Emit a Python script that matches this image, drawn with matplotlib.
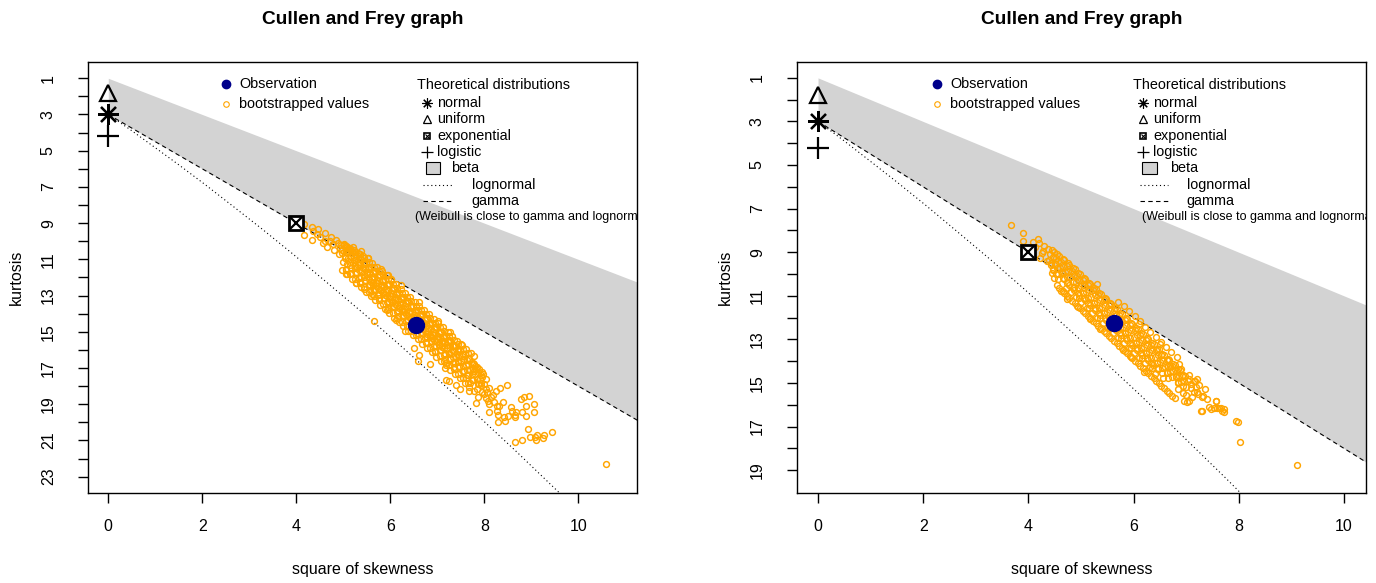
import numpy as np
import matplotlib
matplotlib.use("Agg")
from matplotlib import pyplot as plt
from matplotlib.patches import Rectangle

plt.rcParams['font.family'] = ['Liberation Sans', 'DejaVu Sans']

# ---- values ----
obs_left = (6.55, 14.64)
obs_right = (5.62, 12.27)

# theoretical reference points (square of skewness, kurtosis)
norm_pt = (0.0, 3.0)
unif_pt = (0.0, 1.8)
expo_pt = (4.0, 9.0)
logis_pt = (0.0, 4.2)

# beta region: upper limit and gamma line, read at two ends
beta_s2 = [0.0, 12.0]
beta_top = [1.0, 13.0]
gamma_kurt = [3.0, 21.0]

# lognormal line
lnorm_s2 = [0.0, 0.47, 0.96, 1.49, 2.05, 2.64, 3.27, 3.93, 4.62, 5.36, 6.13, 6.93, 7.78, 8.66, 9.58, 10.55]
lnorm_kurt = [3.0, 3.84, 4.76, 5.76, 6.85, 8.04, 9.32, 10.71, 12.21, 13.83, 15.56, 17.43, 19.43, 21.56, 23.85, 26.29]

boot_left = [
    # start of the cloud near the exponential point
    (4.17, 9.02), (4.33, 9.24), (4.17, 9.66), (4.36, 9.46), (4.43, 9.62), (4.34, 9.91), (4.51, 9.76),
    (4.62, 9.52), (4.56, 10.08), (4.71, 10.01), (4.65, 10.31), (4.78, 10.16), (4.81, 10.47), (4.73, 9.78),
    (4.60, 9.98), (4.47, 9.35), (4.84, 9.92),
    # dense core
    (4.88, 10.08), (4.93, 10.37), (4.90, 10.71), (4.96, 10.22),
    (5.02, 10.17), (4.98, 10.47), (5.04, 10.79), (5.00, 11.12), (4.97, 10.63),
    (5.08, 10.32), (5.13, 10.58), (5.10, 10.94), (5.14, 11.31), (5.06, 11.52),
    (5.18, 10.56), (5.23, 10.86), (5.20, 11.18), (5.25, 11.49), (5.16, 11.78), (5.22, 11.03),
    (5.28, 10.79), (5.33, 11.12), (5.30, 11.44), (5.26, 11.73), (5.34, 12.02), (5.31, 11.29),
    (5.38, 10.97), (5.43, 11.28), (5.40, 11.63), (5.44, 11.96), (5.36, 12.23), (5.41, 11.48),
    (5.48, 11.21), (5.53, 11.52), (5.50, 11.83), (5.46, 12.16), (5.54, 12.43), (5.51, 11.69),
    (5.58, 11.42), (5.63, 11.74), (5.60, 12.09), (5.64, 12.41), (5.56, 12.68), (5.61, 11.96), (5.59, 12.26),
    (5.68, 11.63), (5.73, 11.97), (5.70, 12.31), (5.66, 12.63), (5.74, 12.94), (5.71, 12.14), (5.69, 12.48),
    (5.78, 11.88), (5.83, 12.22), (5.80, 12.54), (5.84, 12.86), (5.76, 13.16), (5.81, 12.39), (5.79, 12.71),
    (5.88, 12.12), (5.93, 12.44), (5.90, 12.78), (5.86, 13.12), (5.94, 13.38), (5.91, 12.62), (5.89, 12.96),
    (5.98, 12.36), (6.03, 12.68), (6.00, 13.04), (6.04, 13.36), (5.96, 13.63), (6.01, 12.86), (5.99, 13.21),
    (6.08, 12.59), (6.13, 12.92), (6.10, 13.26), (6.06, 13.58), (6.14, 13.91), (6.11, 13.09), (6.09, 13.44),
    (6.18, 12.83), (6.23, 13.17), (6.20, 13.49), (6.24, 13.84), (6.16, 14.13), (6.21, 13.33), (6.19, 13.68),
    (6.28, 13.07), (6.33, 13.39), (6.30, 13.74), (6.26, 14.07), (6.34, 14.38), (6.31, 13.58), (6.29, 13.91),
    (6.38, 13.31), (6.43, 13.64), (6.40, 13.98), (6.44, 14.31), (6.36, 14.63), (6.41, 13.83), (6.39, 14.16),
    (6.48, 13.56), (6.53, 13.88), (6.50, 14.24), (6.46, 14.56), (6.54, 14.86), (6.51, 14.06), (6.49, 14.41),
    (6.58, 13.79), (6.63, 14.12), (6.60, 14.46), (6.64, 14.78), (6.56, 15.09), (6.61, 14.29), (6.59, 14.63),
    (6.68, 14.02), (6.73, 14.36), (6.70, 14.69), (6.66, 15.02), (6.74, 15.33), (6.71, 14.53), (6.69, 14.86),
    (6.78, 14.26), (6.83, 14.59), (6.80, 14.93), (6.84, 15.26), (6.76, 15.58), (6.81, 14.78), (6.79, 15.11),
    (6.88, 14.49), (6.93, 14.84), (6.90, 15.18), (6.86, 15.49), (6.94, 15.81), (6.91, 15.01), (6.89, 15.34),
    (6.98, 14.76), (7.03, 15.07), (7.00, 15.41), (7.04, 15.74), (6.96, 16.04), (7.01, 15.24), (6.99, 15.58),
    (7.08, 14.99), (7.13, 15.31), (7.10, 15.64), (7.06, 15.98), (7.14, 16.29), (7.11, 15.49), (7.09, 15.83),
    (7.18, 15.24), (7.23, 15.56), (7.20, 15.89), (7.24, 16.21), (7.16, 16.49), (7.21, 15.73),
    (7.28, 15.49), (7.33, 15.79), (7.30, 16.13), (7.26, 16.46), (7.34, 16.74), (7.31, 15.98),
    (7.38, 15.76), (7.43, 16.04), (7.40, 16.39), (7.44, 16.69), (7.36, 16.96), (7.41, 16.21),
    (7.48, 16.01), (7.53, 16.31), (7.50, 16.61), (7.46, 16.91), (7.54, 17.19),
    (7.58, 16.24), (7.63, 16.56), (7.60, 16.84), (7.56, 17.14), (7.64, 17.41),
    (7.68, 16.51), (7.73, 16.79), (7.70, 17.11), (7.66, 17.39), (7.74, 17.64),
    (7.78, 16.79), (7.83, 17.06), (7.80, 17.34), (7.76, 17.66),
    (7.88, 17.04), (7.93, 17.36), (7.90, 17.61), (7.86, 17.89),
    (7.98, 17.31), (8.03, 17.58), (8.00, 17.86), (8.04, 18.14),
    # dense core, in-between points
    (5.05, 10.25), (5.06, 10.58), (5.04, 10.93), (5.07, 11.27),
    (5.15, 10.46), (5.16, 10.79), (5.14, 11.14), (5.17, 11.48),
    (5.25, 10.71), (5.26, 11.02), (5.24, 11.37), (5.27, 11.70),
    (5.35, 10.93), (5.36, 11.27), (5.34, 11.61), (5.37, 11.96),
    (5.45, 11.17), (5.46, 11.50), (5.44, 11.85), (5.47, 12.20),
    (5.55, 11.40), (5.56, 11.74), (5.54, 12.09), (5.57, 12.43),
    (5.65, 11.64), (5.66, 11.98), (5.64, 12.33), (5.67, 12.68),
    (5.75, 11.88), (5.76, 12.21), (5.74, 12.56), (5.77, 12.90),
    (5.85, 12.12), (5.86, 12.45), (5.84, 12.80), (5.87, 13.14),
    (5.95, 12.36), (5.96, 12.69), (5.94, 13.04), (5.97, 13.38),
    (6.05, 12.60), (6.06, 12.93), (6.04, 13.28), (6.07, 13.62),
    (6.15, 12.84), (6.16, 13.17), (6.14, 13.52), (6.17, 13.86),
    (6.25, 13.08), (6.26, 13.41), (6.24, 13.76), (6.27, 14.10),
    (6.35, 13.32), (6.36, 13.65), (6.34, 14.00), (6.37, 14.34),
    (6.45, 13.56), (6.46, 13.89), (6.44, 14.24), (6.47, 14.58),
    (6.55, 13.80), (6.56, 14.13), (6.54, 14.48), (6.57, 14.82),
    (6.65, 14.04), (6.66, 14.37), (6.64, 14.72), (6.67, 15.06),
    (6.75, 14.27), (6.76, 14.60), (6.74, 14.95), (6.77, 15.29),
    (6.85, 14.51), (6.86, 14.84), (6.84, 15.19), (6.87, 15.53),
    (6.95, 14.75), (6.96, 15.08), (6.94, 15.43), (6.97, 15.77),
    (7.05, 14.99), (7.06, 15.32), (7.04, 15.67), (7.07, 16.01),
    (7.15, 15.23), (7.16, 15.56), (7.14, 15.91), (7.17, 16.25),
    (7.25, 15.47), (7.26, 15.80), (7.24, 16.15), (7.27, 16.49),
    (7.35, 15.72), (7.36, 16.04), (7.34, 16.39), (7.37, 16.72),
    (7.45, 15.96), (7.46, 16.28), (7.44, 16.63), (7.47, 16.95),
    (7.55, 16.21), (7.56, 16.52), (7.54, 16.87),
    (7.65, 16.45), (7.66, 16.76), (7.64, 17.11),
    (7.75, 16.70), (7.76, 17.00), (7.74, 17.34),
    (7.85, 16.95), (7.86, 17.24), (7.84, 17.58),
    (7.95, 17.20), (7.96, 17.48), (7.94, 17.80),
    # edges of the core, gamma side and lognormal side
    (5.02, 10.20), (4.98, 11.59), (5.12, 10.35), (5.08, 11.83), (5.22, 10.50), (5.18, 12.07),
    (5.32, 10.65), (5.28, 12.31), (5.42, 10.80), (5.38, 12.55), (5.52, 10.95), (5.48, 12.79),
    (5.62, 11.18), (5.58, 13.03), (5.72, 11.41), (5.68, 13.26), (5.82, 11.65), (5.78, 13.50),
    (5.92, 11.89), (5.88, 13.74), (6.02, 12.13), (5.98, 13.98), (6.12, 12.37), (6.08, 14.22),
    (6.22, 12.61), (6.18, 14.46), (6.32, 12.85), (6.28, 14.70), (6.42, 13.09), (6.38, 14.94),
    (6.52, 13.33), (6.48, 15.18), (6.62, 13.57), (6.58, 15.42), (6.72, 13.80), (6.68, 15.65),
    (6.82, 14.04), (6.78, 15.89), (6.92, 14.28), (6.88, 16.13), (7.02, 14.52), (6.98, 16.37),
    (7.12, 14.76), (7.08, 16.61), (7.22, 15.00), (7.18, 16.85), (7.32, 15.24), (7.28, 17.09),
    (7.42, 15.48), (7.38, 17.33), (7.52, 15.72), (7.48, 17.57), (7.62, 15.96), (7.58, 17.81),
    (7.72, 16.19), (7.68, 18.04),
    (5.05, 10.28), (5.05, 11.58), (5.15, 10.43), (5.15, 11.82), (5.25, 10.58), (5.25, 12.06),
    (5.35, 10.73), (5.35, 12.30), (5.45, 10.92), (5.45, 12.54), (5.55, 11.16), (5.55, 12.78),
    (5.65, 11.40), (5.65, 13.02), (5.75, 11.63), (5.75, 13.25), (5.85, 11.87), (5.85, 13.49),
    (5.95, 12.11), (5.95, 13.73), (6.05, 12.35), (6.05, 13.97), (6.15, 12.59), (6.15, 14.21),
    (6.25, 12.83), (6.25, 14.45), (6.35, 13.07), (6.35, 14.69), (6.45, 13.31), (6.45, 14.93),
    (6.55, 13.55), (6.55, 15.17), (6.65, 13.79), (6.65, 15.41), (6.75, 14.02), (6.75, 15.64),
    (6.85, 14.26), (6.85, 15.88), (6.95, 14.50), (6.95, 16.12), (7.05, 14.74), (7.05, 16.36),
    (7.15, 14.98), (7.15, 16.60), (7.25, 15.22), (7.25, 16.84), (7.35, 15.46), (7.35, 17.08),
    (7.45, 15.70), (7.45, 17.32), (7.55, 15.94), (7.55, 17.56), (7.65, 16.18), (7.65, 17.80),
    # loose points around the core
    (5.05, 11.83), (5.28, 12.31), (5.61, 12.89), (5.45, 12.62), (5.66, 14.41), (5.92, 13.78), (6.12, 14.33),
    (6.31, 14.98), (6.50, 15.89), (6.59, 16.60), (6.61, 16.26), (6.84, 16.77), (7.19, 16.70), (7.16, 16.98),
    (5.52, 10.92), (5.81, 11.52), (6.22, 12.43), (6.62, 13.38), (7.02, 14.41), (7.26, 15.02), (7.50, 15.70),
    (7.48, 15.98), (7.79, 16.31), (7.80, 16.90), (7.79, 17.17), (5.21, 10.31), (5.37, 10.52), (6.02, 12.08),
    (5.15, 10.35), (5.95, 11.85),
    # tail
    (7.86, 18.60), (7.83, 18.94), (8.04, 18.67), (8.11, 19.41), (8.11, 19.00), (8.19, 18.49), (8.25, 18.26),
    (8.33, 18.10), (8.30, 19.61), (8.30, 19.98), (8.31, 19.08), (8.39, 18.90), (8.43, 19.93), (8.48, 17.94),
    (8.51, 19.63), (8.57, 19.13), (8.58, 19.35), (8.65, 19.57), (8.65, 21.06), (8.77, 18.70), (8.84, 18.60),
    (8.89, 19.10), (8.89, 19.63), (8.93, 20.37), (8.98, 20.80), (9.07, 20.80), (9.09, 21.00), (9.28, 20.68),
    (9.43, 20.54), (9.24, 20.85), (9.13, 20.68), (9.05, 19.45), (9.05, 18.96), (8.96, 18.55), (8.80, 19.45),
    (8.68, 19.41), (8.28, 19.37), (8.26, 19.10), (8.42, 19.72), (8.66, 19.72), (7.85, 18.18), (7.88, 17.90),
    (7.79, 18.26), (7.67, 18.26), (7.49, 18.18), (7.39, 17.95), (7.24, 17.69), (7.18, 17.65), (8.05, 18.35),
    (8.15, 18.62), (8.00, 18.45), (8.20, 18.85), (7.95, 18.30), (8.10, 18.10), (7.70, 17.80), (7.60, 17.55),
    (7.92, 17.95), (8.08, 18.80), (8.80, 20.95), (10.58, 22.28),
]

boot_right = [
    # start of the cloud near the exponential point
    (3.67, 7.76), (3.90, 8.10), (3.89, 8.48), (4.08, 8.52), (4.18, 8.38), (4.13, 8.75), (4.25, 9.02),
    (4.30, 8.70), (4.22, 9.25), (4.35, 9.40), (4.28, 8.95), (4.45, 9.95), (4.55, 10.50), (4.48, 10.20),
    (4.65, 10.78), (4.74, 11.16), (4.95, 11.50), (4.20, 8.60),
    # dense core
    (4.38, 8.85), (4.42, 9.10), (4.40, 9.38), (4.44, 9.60),
    (4.48, 8.98), (4.53, 9.27), (4.50, 9.52), (4.46, 9.78), (4.52, 10.02),
    (4.58, 9.16), (4.63, 9.45), (4.60, 9.71), (4.64, 9.97), (4.56, 10.22),
    (4.68, 9.36), (4.73, 9.62), (4.70, 9.90), (4.66, 10.17), (4.74, 10.43), (4.71, 10.62),
    (4.78, 9.58), (4.83, 9.84), (4.80, 10.12), (4.76, 10.39), (4.84, 10.65), (4.81, 10.84),
    (4.88, 9.79), (4.93, 10.07), (4.90, 10.35), (4.86, 10.61), (4.94, 10.88), (4.91, 11.06),
    (4.98, 10.01), (5.03, 10.28), (5.00, 10.57), (5.04, 10.85), (4.96, 11.11), (5.01, 11.30),
    (5.08, 10.23), (5.13, 10.51), (5.10, 10.81), (5.06, 11.08), (5.14, 11.34), (5.11, 11.54),
    (5.18, 10.45), (5.23, 10.74), (5.20, 11.04), (5.24, 11.31), (5.16, 11.57), (5.21, 11.77),
    (5.28, 10.68), (5.33, 10.97), (5.30, 11.27), (5.26, 11.54), (5.34, 11.80), (5.31, 12.01),
    (5.38, 10.91), (5.43, 11.19), (5.40, 11.50), (5.44, 11.77), (5.36, 12.03), (5.41, 12.24),
    (5.48, 11.14), (5.53, 11.42), (5.50, 11.73), (5.46, 12.00), (5.54, 12.26), (5.51, 12.47),
    (5.58, 11.37), (5.63, 11.65), (5.60, 11.96), (5.64, 12.23), (5.56, 12.49), (5.61, 12.70),
    (5.68, 11.60), (5.73, 11.88), (5.70, 12.19), (5.66, 12.46), (5.74, 12.72), (5.71, 12.93),
    (5.78, 11.83), (5.83, 12.11), (5.80, 12.42), (5.84, 12.69), (5.76, 12.95), (5.81, 13.16),
    (5.88, 12.06), (5.93, 12.34), (5.90, 12.65), (5.86, 12.92), (5.94, 13.18), (5.91, 13.39),
    (5.98, 12.29), (6.03, 12.57), (6.00, 12.88), (6.04, 13.15), (5.96, 13.41), (6.01, 13.62),
    (6.08, 12.52), (6.13, 12.80), (6.10, 13.11), (6.06, 13.38), (6.14, 13.64), (6.11, 13.85),
    (6.18, 12.75), (6.23, 13.03), (6.20, 13.34), (6.24, 13.61), (6.16, 13.87), (6.21, 14.08),
    (6.28, 12.98), (6.33, 13.26), (6.30, 13.57), (6.26, 13.84), (6.34, 14.10), (6.31, 14.29),
    (6.38, 13.22), (6.43, 13.50), (6.40, 13.80), (6.44, 14.07), (6.36, 14.32),
    (6.48, 13.46), (6.53, 13.74), (6.50, 14.03), (6.46, 14.30), (6.54, 14.55),
    (6.58, 13.70), (6.63, 13.97), (6.60, 14.26), (6.64, 14.53), (6.56, 14.76),
    (6.68, 13.94), (6.73, 14.21), (6.70, 14.49), (6.66, 14.76),
    (6.78, 14.18), (6.83, 14.45), (6.80, 14.72), (6.84, 14.98),
    (6.88, 14.42), (6.93, 14.69), (6.90, 14.95),
    (6.98, 14.68), (7.03, 14.93), (7.00, 15.19),
    # dense core, in-between points
    (4.45, 8.90), (4.46, 9.20), (4.44, 9.50), (4.47, 9.80),
    (4.55, 9.10), (4.56, 9.40), (4.54, 9.72), (4.57, 10.02),
    (4.65, 9.30), (4.66, 9.62), (4.64, 9.93), (4.67, 10.25),
    (4.75, 9.50), (4.76, 9.84), (4.74, 10.16), (4.77, 10.50),
    (4.85, 9.72), (4.86, 10.06), (4.84, 10.39), (4.87, 10.73),
    (4.95, 9.95), (4.96, 10.29), (4.94, 10.62), (4.97, 10.96),
    (5.05, 10.18), (5.06, 10.52), (5.04, 10.85), (5.07, 11.19),
    (5.15, 10.41), (5.16, 10.75), (5.14, 11.08), (5.17, 11.42),
    (5.25, 10.64), (5.26, 10.98), (5.24, 11.31), (5.27, 11.65),
    (5.35, 10.87), (5.36, 11.21), (5.34, 11.54), (5.37, 11.88),
    (5.45, 11.10), (5.46, 11.44), (5.44, 11.77), (5.47, 12.11),
    (5.55, 11.33), (5.56, 11.67), (5.54, 12.00), (5.57, 12.34),
    (5.65, 11.56), (5.66, 11.90), (5.64, 12.23), (5.67, 12.57),
    (5.75, 11.79), (5.76, 12.13), (5.74, 12.46), (5.77, 12.80),
    (5.85, 12.02), (5.86, 12.36), (5.84, 12.69), (5.87, 13.03),
    (5.95, 12.25), (5.96, 12.59), (5.94, 12.92), (5.97, 13.26),
    (6.05, 12.48), (6.06, 12.82), (6.04, 13.15), (6.07, 13.49),
    (6.15, 12.71), (6.16, 13.05), (6.14, 13.38), (6.17, 13.72),
    (6.25, 12.94), (6.26, 13.28), (6.24, 13.61), (6.27, 13.95),
    (6.35, 13.18), (6.36, 13.51), (6.34, 13.84), (6.37, 14.17),
    (6.45, 13.42), (6.46, 13.74), (6.44, 14.07), (6.47, 14.38),
    (6.55, 13.66), (6.56, 13.97), (6.54, 14.30),
    (6.65, 13.90), (6.66, 14.20), (6.64, 14.52),
    (6.75, 14.14), (6.76, 14.43), (6.74, 14.74),
    (6.85, 14.38), (6.86, 14.66), (6.84, 14.96),
    (6.95, 14.62), (6.96, 14.89), (6.94, 15.14),
    # edges of the core, lognormal side (and gamma side further out)
    (4.58, 10.63), (4.68, 10.86), (4.78, 11.09), (4.88, 11.32), (4.98, 11.55), (5.08, 11.78),
    (5.18, 12.01), (5.28, 12.24), (5.38, 12.47), (5.48, 12.70), (5.58, 12.93), (5.68, 13.16),
    (5.78, 13.39), (5.88, 13.62), (5.98, 13.85), (6.08, 14.08), (6.18, 14.31), (6.28, 14.54),
    (6.38, 14.77), (6.48, 15.00), (6.58, 15.23), (6.68, 15.46), (6.78, 15.69),
    (4.63, 10.80), (4.73, 11.02), (4.83, 11.25), (4.93, 11.48), (5.03, 11.71), (5.13, 11.94),
    (5.23, 12.17), (5.33, 12.40), (5.43, 12.63), (5.53, 12.86), (5.63, 13.09), (5.73, 13.32),
    (5.83, 13.55), (5.93, 13.78), (6.03, 14.01), (6.13, 14.24), (6.23, 14.47), (6.33, 14.70),
    (6.43, 14.93), (6.53, 15.16), (6.63, 15.39), (6.73, 15.62),
    (5.82, 11.49), (5.92, 11.72), (6.02, 11.95), (6.12, 12.18), (6.22, 12.41), (6.32, 12.64),
    (6.42, 12.87), (6.52, 13.10), (6.62, 13.33), (6.72, 13.56), (6.82, 13.79),
    # loose points around the core
    (5.18, 12.08), (5.37, 12.53), (6.19, 14.52), (6.70, 14.20), (5.95, 13.80), (5.80, 13.50), (6.40, 14.60),
    (5.30, 10.45), (5.70, 11.30), (6.10, 12.30), (6.50, 13.20),
    # tail
    (6.87, 14.14), (6.90, 14.37), (6.80, 14.67), (7.06, 14.62), (7.15, 14.90), (7.21, 14.82), (7.09, 15.04),
    (7.16, 14.90), (7.06, 14.82), (7.19, 15.20), (7.22, 15.53), (7.32, 15.61), (6.96, 15.81), (7.02, 15.86),
    (7.06, 15.84), (7.31, 15.66), (7.15, 15.40), (7.21, 15.40), (7.57, 15.83), (7.56, 15.85), (7.43, 16.12),
    (7.47, 16.20), (7.53, 16.16), (7.59, 16.16), (7.62, 16.16), (7.67, 16.15), (7.69, 16.27), (7.72, 16.35),
    (7.73, 16.20), (7.31, 16.27), (7.28, 16.27), (7.94, 16.76), (7.99, 16.80), (8.03, 17.70), (9.10, 18.75),
    (6.95, 15.45), (7.10, 15.25), (7.25, 15.10), (7.00, 15.55), (6.85, 15.30), (7.35, 15.30), (7.40, 15.75),
    (7.12, 15.65),
]

ORANGE = '#FFA500'
NAVY = '#00008B'
GREY = '#D3D3D3'


def cullen_frey(ax, boot, obs, xlim, ylim, ymax_tick, leg):
    boot = np.array(boot)
    ax.fill_between(beta_s2, beta_top, gamma_kurt, color=GREY, lw=0, zorder=1)
    ax.plot(lnorm_s2, lnorm_kurt, color='k', lw=0.8, ls=(0, (1, 2.5)), zorder=2)
    ax.plot(beta_s2, gamma_kurt, color='k', lw=0.8, ls=(0, (4, 3)), zorder=2)
    ax.plot(boot[:, 0], boot[:, 1], 'o', mfc='none', mec=ORANGE, ms=4.2, mew=1.05, zorder=3)
    ax.plot(*obs, 'o', color=NAVY, ms=11.5, zorder=4)

    # theoretical distributions
    ax.plot(*norm_pt, marker=(8, 2, 0), ms=15, mew=1.6, color='k', zorder=5)
    ax.plot(*unif_pt, marker='^', ms=12, mfc='none', mec='k', mew=1.6, zorder=5)
    ax.plot(*logis_pt, marker='+', ms=16, mew=1.6, color='k', zorder=5)
    ax.plot(*expo_pt, marker='s', ms=10, mfc='white', mec='k', mew=2, zorder=5)
    ax.plot(*expo_pt, marker='x', ms=8, mew=1.6, color='k', zorder=6)

    ax.set_xlim(*xlim)
    ax.set_ylim(*ylim)
    ax.set_xticks([0, 2, 4, 6, 8, 10])
    yt = list(range(1, ymax_tick + 1))
    ax.set_yticks(yt)
    ax.set_yticklabels([str(v) if v % 2 == 1 else '' for v in yt], rotation=90, va='center')
    ax.tick_params(length=7.2, width=1, labelsize=11.5)
    ax.tick_params(axis='x', pad=11.5)
    ax.tick_params(axis='y', pad=16)
    for s in ax.spines.values():
        s.set_linewidth(1)

    ax.set_xlabel('square of skewness', fontsize=11.5)
    ax.set_ylabel('kurtosis', fontsize=11.5)
    ax.xaxis.set_label_coords(0.5, -0.160)
    ax.yaxis.set_label_coords(leg['ylab'], 0.5)
    ax.text(0.5, 1.0975, 'Cullen and Frey graph', transform=ax.transAxes,
            ha='center', va='center', fontsize=13.8, fontweight='bold')

    # legends, drawn the way R places them
    T = ax.transAxes
    fs = 10.4
    mx, tx = leg['obs']
    ax.plot(mx, 0.949, 'o', color=NAVY, ms=6, transform=T, clip_on=False)
    ax.text(tx, 0.949, 'Observation', transform=T, va='center', fontsize=fs)
    ax.plot(mx, 0.903, 'o', mfc='none', mec=ORANGE, ms=4, mew=0.8, transform=T, clip_on=False)
    ax.text(tx, 0.903, 'bootstrapped values', transform=T, va='center', fontsize=fs)

    title_x, mk, tk, bx, btx, l0, l1, ltx, wx = leg['theo']
    ax.text(title_x, 0.9466, 'Theoretical distributions', transform=T, va='center', fontsize=fs)
    rows = [0.9049, 0.8677, 0.8283, 0.7912]
    ax.plot(mk, rows[0], marker=(8, 2, 0), ms=7.5, mew=0.8, color='k', transform=T)
    ax.text(tk, rows[0], 'normal', transform=T, va='center', fontsize=fs)
    ax.plot(mk, rows[1], marker='^', ms=6, mfc='none', mec='k', mew=0.9, transform=T)
    ax.text(tk, rows[1], 'uniform', transform=T, va='center', fontsize=fs)
    ax.plot(mk, rows[2], marker='s', ms=5, mfc='white', mec='k', mew=1.2, transform=T)
    ax.plot(mk, rows[2], marker='x', ms=3.5, mew=0.8, color='k', transform=T)
    ax.text(tk, rows[2], 'exponential', transform=T, va='center', fontsize=fs)
    ax.plot(mk, rows[3], marker='+', ms=8, mew=0.9, color='k', transform=T)
    ax.text(tk, rows[3], 'logistic', transform=T, va='center', fontsize=fs)
    ax.add_patch(Rectangle((bx - 0.013, 0.7541 - 0.013), 0.026, 0.026, transform=T,
                           fc=GREY, ec='k', lw=0.8))
    ax.text(btx, 0.7541, 'beta', transform=T, va='center', fontsize=fs)
    ax.plot([l0, l1], [0.7146, 0.7146], color='k', lw=0.8, ls=(0, (1, 2.5)), transform=T)
    ax.text(ltx, 0.7146, 'lognormal', transform=T, va='center', fontsize=fs)
    ax.plot([l0, l1], [0.6775, 0.6775], color='k', lw=0.8, ls=(0, (4, 3)), transform=T)
    ax.text(ltx, 0.6775, 'gamma', transform=T, va='center', fontsize=fs)
    ax.text(wx, 0.6404, '(Weibull is close to gamma and lognormal)', transform=T,
            va='center', fontsize=9, clip_on=True)


fig = plt.figure(figsize=(13.76, 5.83), dpi=100)
ax1 = fig.add_axes([0.0640, 0.1544, 0.3990, 0.7393])
ax2 = fig.add_axes([0.5792, 0.1544, 0.4135, 0.7393])

cullen_frey(ax1, boot_left, obs_left, (-0.43, 11.25), (23.9, 0.1), 23,
            {'obs': (0.251, 0.275), 'ylab': -0.117,
             'theo': (0.599, 0.617, 0.636, 0.628, 0.661, 0.610, 0.663, 0.699, 0.595)})
cullen_frey(ax2, boot_right, obs_right, (-0.40, 10.42), (20.05, 0.27), 19,
            {'obs': (0.246, 0.269), 'ylab': -0.113,
             'theo': (0.591, 0.608, 0.626, 0.620, 0.656, 0.603, 0.652, 0.685, 0.606)})

fig.savefig('out.png', dpi=100)
